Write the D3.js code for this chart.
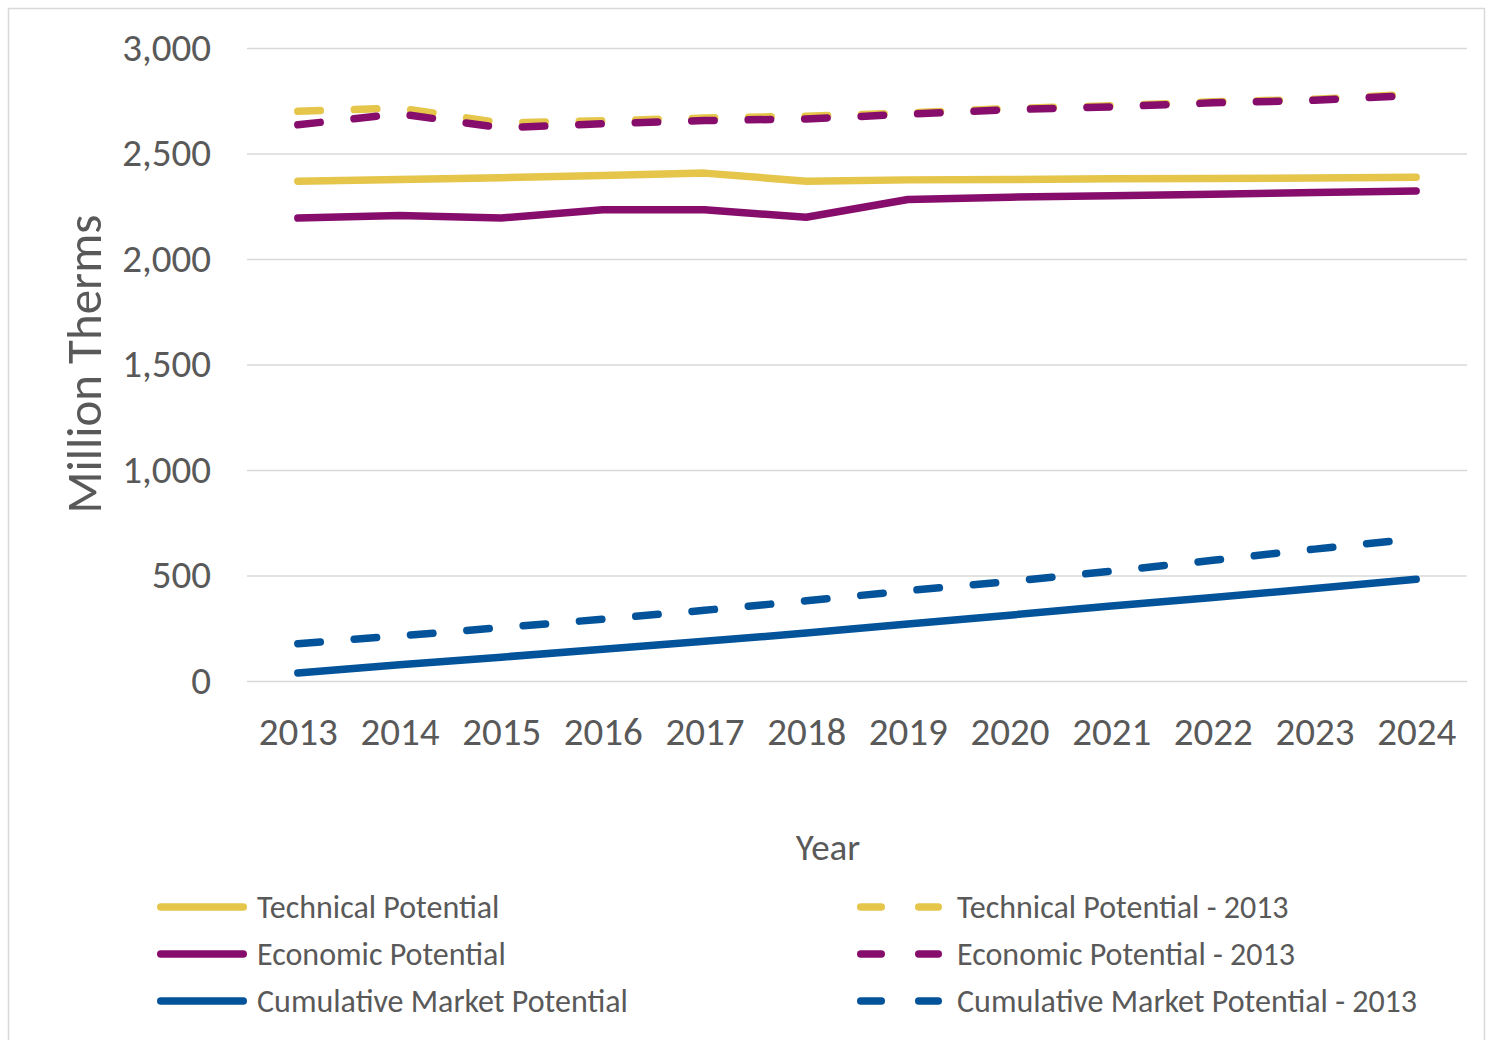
<!DOCTYPE html>
<html>
<head>
<meta charset="utf-8">
<script src="https://cdn.jsdelivr.net/npm/d3@7"></script>
<style>
  html, body { margin: 0; padding: 0; background: #ffffff; }
  svg { display: block; }
  text { font-family: Calibri, Carlito, Lato, "Open Sans", sans-serif; fill: #595959; }
</style>
</head>
<body>
<svg id="chart" width="1491" height="1040"></svg>
<script>
// Natural gas savings potential, million therms
const years = ["2013","2014","2015","2016","2017","2018","2019","2020","2021","2022","2023","2024"];
const technical      = [2369, 2377, 2385, 2396, 2407, 2369, 2375, 2377, 2380, 2382, 2384, 2387];
const economic       = [2194, 2206, 2194, 2233, 2233, 2198, 2282, 2293, 2300, 2307, 2315, 2322];
const cumulative     = [38, 77, 113, 150, 188, 227, 270, 312, 355, 396, 438, 482];
const technical2013  = [2700, 2715, 2645, 2655, 2668, 2677, 2692, 2713, 2726, 2745, 2757, 2782];
const economic2013   = [2636, 2688, 2622, 2641, 2656, 2664, 2686, 2708, 2721, 2740, 2752, 2776];
const cumulative2013 = [177, 214, 253, 293, 335, 380, 428, 472, 520, 572, 625, 675];
const yTicks = [0, 500, 1000, 1500, 2000, 2500, 3000];

const series = [
  { name: "Technical Potential",               values: technical,      color: "#E5C54A", dashed: false },
  { name: "Economic Potential",                values: economic,       color: "#860D6C", dashed: false },
  { name: "Cumulative Market Potential",       values: cumulative,     color: "#02539A", dashed: false },
  { name: "Technical Potential - 2013",        values: technical2013,  color: "#E5C54A", dashed: true },
  { name: "Economic Potential - 2013",         values: economic2013,   color: "#860D6C", dashed: true },
  { name: "Cumulative Market Potential - 2013",values: cumulative2013, color: "#02539A", dashed: true }
];

const svg = d3.select("#chart");
const plot = { left: 247, right: 1467, top: 48, bottom: 681 };
const strokeW = 7.5;
const dashPattern = "22.5 34";
const fontStack = "Calibri, Carlito, Lato, sans-serif";

// chart frame
svg.append("rect")
  .attr("x", 8.5).attr("y", 8.5)
  .attr("width", 1476).attr("height", 1100)
  .attr("fill", "none").attr("stroke", "#d9d9d9").attr("stroke-width", 1.5);

const x = d3.scalePoint().domain(years).range([plot.left, plot.right]).padding(0.5);
const y = d3.scaleLinear().domain([0, 3000]).range([plot.bottom, plot.top]);

// horizontal gridlines with value labels
const yAxis = d3.axisLeft(y)
  .tickValues(yTicks)
  .tickSize(-(plot.right - plot.left))
  .tickPadding(36)
  .tickFormat(d3.format(","));
const gy = svg.append("g").attr("transform", `translate(${plot.left},0)`).call(yAxis);
gy.select(".domain").remove();
gy.selectAll(".tick line").attr("stroke", "#d9d9d9").attr("stroke-width", 1.5);
gy.selectAll(".tick text")
  .attr("font-size", 39)
  .attr("fill", "#595959")
  .style("font-family", fontStack);

// year labels
const xAxis = d3.axisBottom(x).tickSize(0).tickPadding(36);
const gx = svg.append("g").attr("transform", `translate(0,${plot.bottom})`).call(xAxis);
gx.select(".domain").remove();
gx.selectAll(".tick text")
  .attr("font-size", 39)
  .attr("fill", "#595959")
  .style("font-family", fontStack);

// axis titles
svg.append("text")
  .attr("transform", `translate(101,364) rotate(-90)`)
  .attr("text-anchor", "middle")
  .attr("font-size", 49)
  .text("Million Therms");

svg.append("text")
  .attr("x", 828).attr("y", 860)
  .attr("text-anchor", "middle")
  .attr("font-size", 37)
  .text("Year");

// series lines
const line = d3.line()
  .x((d, i) => x(years[i]))
  .y(d => y(d));

svg.append("g").selectAll("path")
  .data(series)
  .join("path")
  .attr("d", d => line(d.values))
  .attr("fill", "none")
  .attr("stroke", d => d.color)
  .attr("stroke-width", strokeW)
  .attr("stroke-linecap", "round")
  .attr("stroke-linejoin", "round")
  .attr("stroke-dasharray", d => d.dashed ? dashPattern : null);

// legend: solid series on the left, 2013 series on the right
const legendRows = [907, 954, 1001];
const legend = svg.append("g");
series.forEach((s, i) => {
  const col = s.dashed ? 1 : 0;
  const row = i % 3;
  const ly = legendRows[row];
  const x0 = col === 0 ? 160.75 : 860.75;
  const x1 = col === 0 ? 243.25 : 938.25;
  legend.append("line")
    .attr("x1", x0).attr("x2", x1)
    .attr("y1", ly).attr("y2", ly)
    .attr("stroke", s.color)
    .attr("stroke-width", strokeW)
    .attr("stroke-linecap", "round")
    .attr("stroke-dasharray", s.dashed ? "20.5 37.5" : null);
  legend.append("text")
    .attr("x", col === 0 ? 257 : 957)
    .attr("y", ly)
    .attr("dy", "0.35em")
    .attr("font-size", 32)
    .text(s.name);
});
</script>
</body>
</html>
